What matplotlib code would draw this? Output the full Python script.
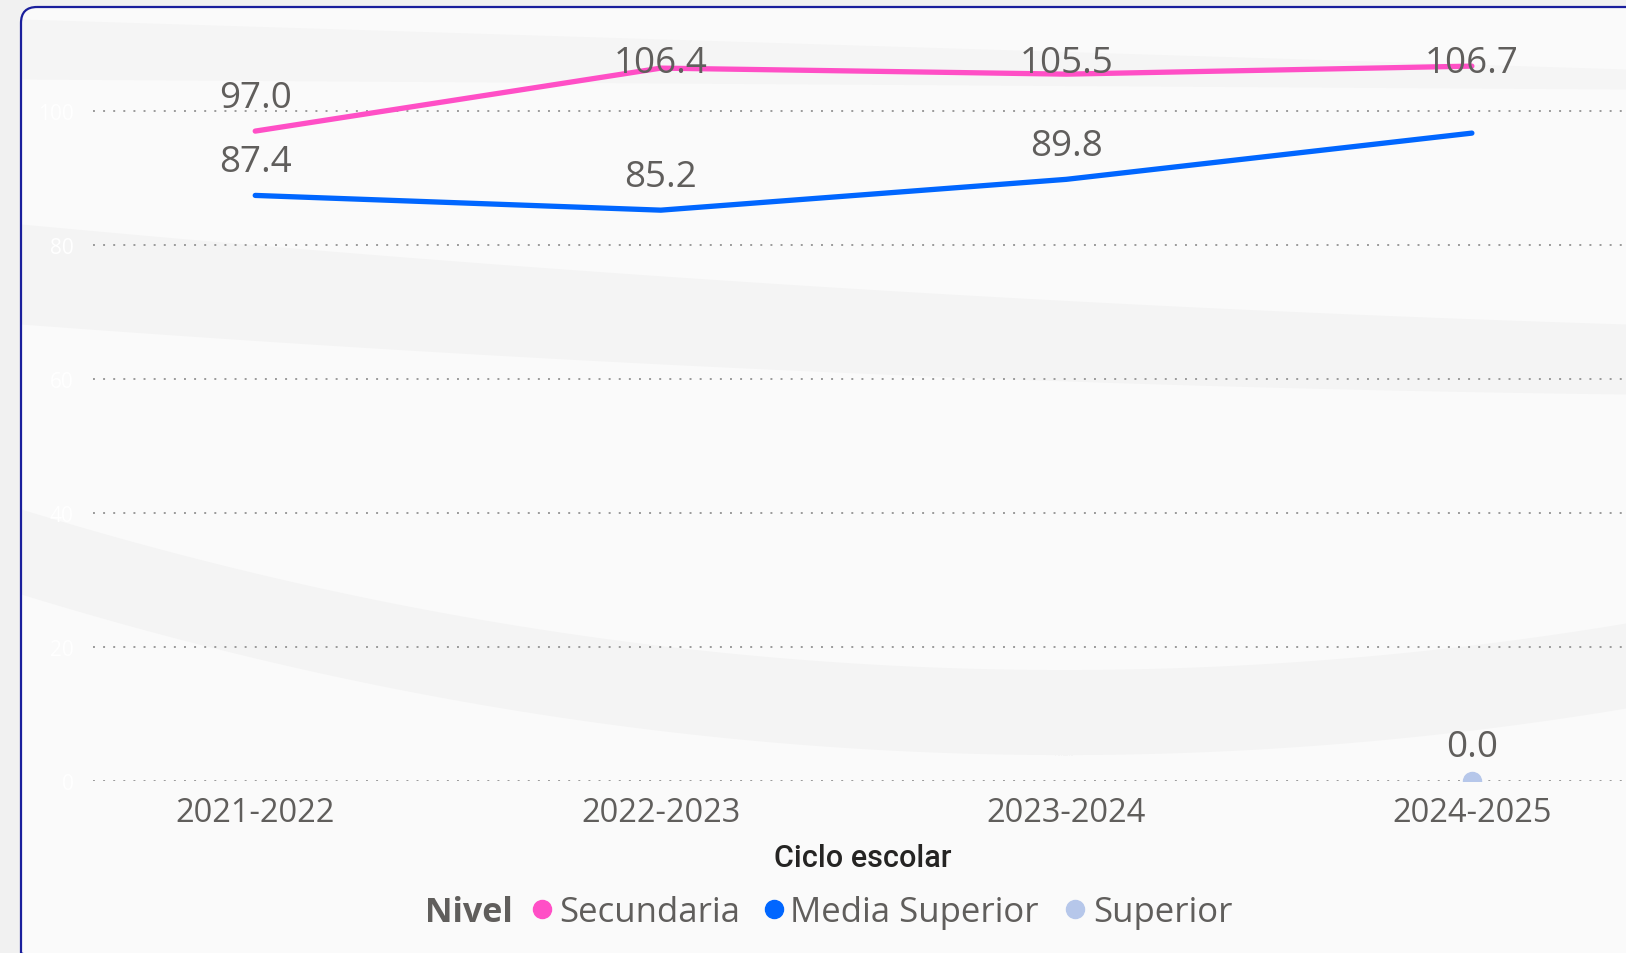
import numpy as np
import matplotlib.pyplot as plt
from matplotlib.patches import FancyBboxPatch

# ------------------------------------------------------------
# Datos
# ------------------------------------------------------------
ciclos = ["2021-2022", "2022-2023", "2023-2024", "2024-2025"]
secundaria = [97.0, 106.4, 105.5, 106.7]
media_superior = [87.4, 85.2, 89.8, 96.7]
media_superior_etiqueta = [True, True, True, False]
superior_ciclos = ["2024-2025"]
superior = [0.0]
y_ticks = [0, 20, 40, 60, 80, 100]

niveles = ["Secundaria", "Media Superior", "Superior"]
colores = ["#ff4fc6", "#0066ff", "#b6c7ea"]

W, H = 1626, 954
FONT = ["Open Sans", "DejaVu Sans"]
GRIS = "#605e5c"

fig = plt.figure(figsize=(W / 100, H / 100), dpi=100)
fig.patch.set_facecolor("#f1f1f1")

# ------------------------------------------------------------
# Fondo (tarjeta con bandas suaves)
# ------------------------------------------------------------
bg = fig.add_axes([0, 0, 1, 1], zorder=-10)
bg.set_xlim(0, W)
bg.set_ylim(H, 0)
bg.axis("off")

CARD_H = H + 8
card = FancyBboxPatch((21, 8), W + 40, CARD_H,
                      boxstyle="round,pad=0,rounding_size=16",
                      fc="#fafafa", ec="none", zorder=1)
bg.add_patch(card)

u = np.linspace(0, 1, 300)
xs = 21 + u * (W - 21)
bandas = [
    (225 + 150 * u - 50 * u ** 2, 100 - 30 * u, "#f4f4f4"),
    (510 + 494 * u - 380 * u ** 2, 85 + 0 * u, "#f4f4f4"),
    (20 + 50 * u, 60 - 40 * u, "#f5f5f5"),
]
for top, alto, c in bandas:
    b = bg.fill_between(xs, top, top + alto, color=c, lw=0, zorder=2)
    b.set_clip_path(card)

borde = FancyBboxPatch((21, 8), W + 40, CARD_H,
                       boxstyle="round,pad=0,rounding_size=16",
                       fc="none", ec="#1a1f9c", lw=1.6, zorder=3)
bg.add_patch(borde)

# ------------------------------------------------------------
# Grafica
# ------------------------------------------------------------
ax = fig.add_axes([93 / W, 1 - 782 / H, 1 - 93 / W, (782 - 45) / H])
ax.patch.set_alpha(0)
ax.set_xlim(-0.4, 3.38)
ax.set_ylim(0, 110)
for s in ax.spines.values():
    s.set_visible(False)

x = np.arange(len(ciclos))
ax.plot(x, secundaria, color=colores[0], lw=3.8, solid_capstyle="round", zorder=3)
ax.plot(x, media_superior, color=colores[1], lw=3.8, solid_capstyle="round", zorder=3)
xs_sup = [ciclos.index(c) for c in superior_ciclos]
ax.plot(xs_sup, superior, "o", ms=13, color=colores[2], zorder=3)

ax.set_yticks(y_ticks)
ax.grid(axis="y", color="#9a9a9a", linestyle=(0, (1, 4.2)), lw=1.4)
ax.set_axisbelow(True)
ax.tick_params(axis="y", length=0, pad=14, labelsize=15, labelcolor="white")
ax.set_xticks(x)
ax.set_xticklabels(ciclos, fontfamily=FONT)
ax.tick_params(axis="x", length=0, pad=11, labelsize=23.5, labelcolor=GRIS)
for t in ax.get_yticklabels():
    t.set_fontfamily(FONT)

# etiquetas de datos
OFFSET, TOPE = 5.0, 107.2
def etiquetas(xv, vals, mostrar=None):
    for i, (xi, v) in enumerate(zip(xv, vals)):
        if mostrar is not None and not mostrar[i]:
            continue
        ax.text(xi, min(v + OFFSET, TOPE), f"{v:.1f}", ha="center", va="center",
                fontsize=26.5, color=GRIS, family=FONT, zorder=4)

etiquetas(x, secundaria)
etiquetas(x, media_superior, media_superior_etiqueta)
etiquetas(xs_sup, superior)

# titulo del eje
fig.text(863 / W, 1 - 859 / H, "Ciclo escolar", ha="center", va="center",
         fontsize=22, color="#252423", weight="medium",
         family=["Roboto", "DejaVu Sans"])

# leyenda
ly = 913
bg.text(425, ly, "Nivel", ha="left", va="center", fontsize=24.5, weight="bold",
        color=GRIS, family=FONT, zorder=5)
dot_x = [542, 774, 1075]
txt_x = [559, 790, 1093]
for nombre, c, dx, tx in zip(niveles, colores, dot_x, txt_x):
    bg.plot([dx], [ly - 3], "o", ms=13, color=c, zorder=5)
    bg.text(tx, ly, nombre, ha="left", va="center", fontsize=25,
            color=GRIS, family=FONT, zorder=5)

fig.savefig("out.png", dpi=100, facecolor=fig.get_facecolor())
